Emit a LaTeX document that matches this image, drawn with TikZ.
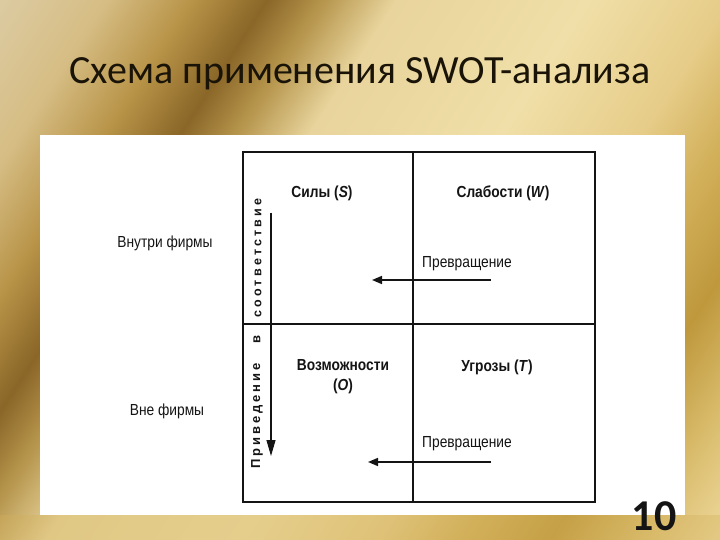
\documentclass[tikz,border=0pt]{standalone}
\usepackage{fontspec}
\setmainfont{Carlito}
\newfontfamily\dfont[FakeStretch=0.86]{Liberation Sans}
\newfontfamily\vfonta[LetterSpace=23]{Liberation Sans}
\newfontfamily\vfontb[LetterSpace=26]{Liberation Sans}
\usetikzlibrary{arrows.meta}
\definecolor{g0}{HTML}{DCCBA2}
\definecolor{g1}{HTML}{D6BD84}
\definecolor{g2}{HTML}{B89448}
\definecolor{g3}{HTML}{8A6628}
\definecolor{g4}{HTML}{B4934A}
\definecolor{g5}{HTML}{E8D49C}
\definecolor{g6}{HTML}{F0DFA8}
\definecolor{g7}{HTML}{E6CC88}
\definecolor{g8}{HTML}{D2B05A}
\definecolor{g9}{HTML}{BF983C}
\definecolor{g10}{HTML}{D9BC6C}
\definecolor{g11}{HTML}{EED89C}
\definecolor{ink}{HTML}{141414}
\definecolor{titleink}{HTML}{1A1408}
\pgfdeclarehorizontalshading{goldbg}{100bp}{color(0bp)=(g0); color(25bp)=(g0); color(30bp)=(g1); color(34bp)=(g2); color(37.5bp)=(g3); color(40bp)=(g4); color(43.5bp)=(g5); color(52.5bp)=(g6); color(59bp)=(g7); color(63bp)=(g8); color(67bp)=(g9); color(71bp)=(g10); color(75bp)=(g11); color(100bp)=(g11)}
\tikzset{
  gridline/.style={line width=1.8pt, draw=ink},
  lbl/.style={font=\dfont\fontsize{16}{18}\selectfont, text=ink, inner sep=0pt},
  head/.style={font=\dfont\bfseries\fontsize{16}{20}\selectfont, text=ink, inner sep=0pt},
  harrow/.style={line width=1.6pt, draw=ink, -{Triangle[length=10pt,width=8pt]}},
  varrow/.style={line width=1.1pt, draw=ink, -{Triangle[length=16pt,width=9pt]}},
}
\begin{document}
\begin{tikzpicture}[x=1pt,y=-1pt]
\useasboundingbox (0,0) rectangle (720,540);
% background
\begin{scope}
  \clip (0,0) rectangle (720,540);
  \begin{scope}[transform canvas={rotate around={-33:(360,270)}}]
    \shade[shading=goldbg] (-90,-180) rectangle (810,720);
  \end{scope}
  \fill[g8, opacity=0.35] (0,515) rectangle (720,540);
\end{scope}
% title
\node[font=\fontsize{40}{48}\selectfont, text=titleink, anchor=base, inner sep=0pt] (title) at (360,84) {Схема применения SWOT-анализа};
% white panel
\fill[white] (40,135) rectangle (685,515);
% grid
\coordinate (tl) at (243,152);
\coordinate (br) at (595,502);
\coordinate (tm) at (413,152);
\coordinate (bm) at (413,502);
\coordinate (ml) at (243,324);
\coordinate (mr) at (595,324);
\draw[gridline] (tl) rectangle (br);
\draw[gridline] (tm) -- (bm);
\draw[gridline] (ml) -- (mr);
% labels
\node[lbl] (inside) at (165,243) {Внутри фирмы};
\node[lbl] (outside) at (167,411) {Вне фирмы};
\node[head] (S) at (322,193) {Силы (\textit{S})};
\node[head] (W) at (503,193) {Слабости (\textit{W})};
\node[head, align=center] (O) at (343,377) {Возможности\\(\textit{O})};
\node[head] (T) at (497,367) {Угрозы (\textit{T})};
\node[lbl] (c1) at (467,264) {Превращение};
\node[lbl] (c2) at (467,444) {Превращение};
% vertical text
\node[font=\vfonta\bfseries\fontsize{13}{15}\selectfont, text=ink, rotate=90, inner sep=0pt] (v1) at (257,416) {Приведение};
\node[font=\vfonta\bfseries\fontsize{13}{15}\selectfont, text=ink, rotate=90, inner sep=0pt] (v2) at (257,340) {в};
\node[font=\vfontb\bfseries\fontsize{12.5}{14}\selectfont, text=ink, rotate=90, inner sep=0pt] (v3) at (258,258) {соответствие};
% arrows
\coordinate (a1s) at (491,280);
\coordinate (a1e) at (372,280);
\coordinate (a2s) at (491,462);
\coordinate (a2e) at (368,462);
\coordinate (vs) at (271,213);
\coordinate (ve) at (271,456);
\draw[harrow] (a1s) -- (a1e);
\draw[harrow] (a2s) -- (a2e);
\draw[varrow] (vs) -- (ve);
% page number
\node[font=\bfseries\fontsize{44}{50}\selectfont, text=ink, anchor=base, inner sep=0pt] (num) at (654,530) {10};
\end{tikzpicture}
\end{document}
